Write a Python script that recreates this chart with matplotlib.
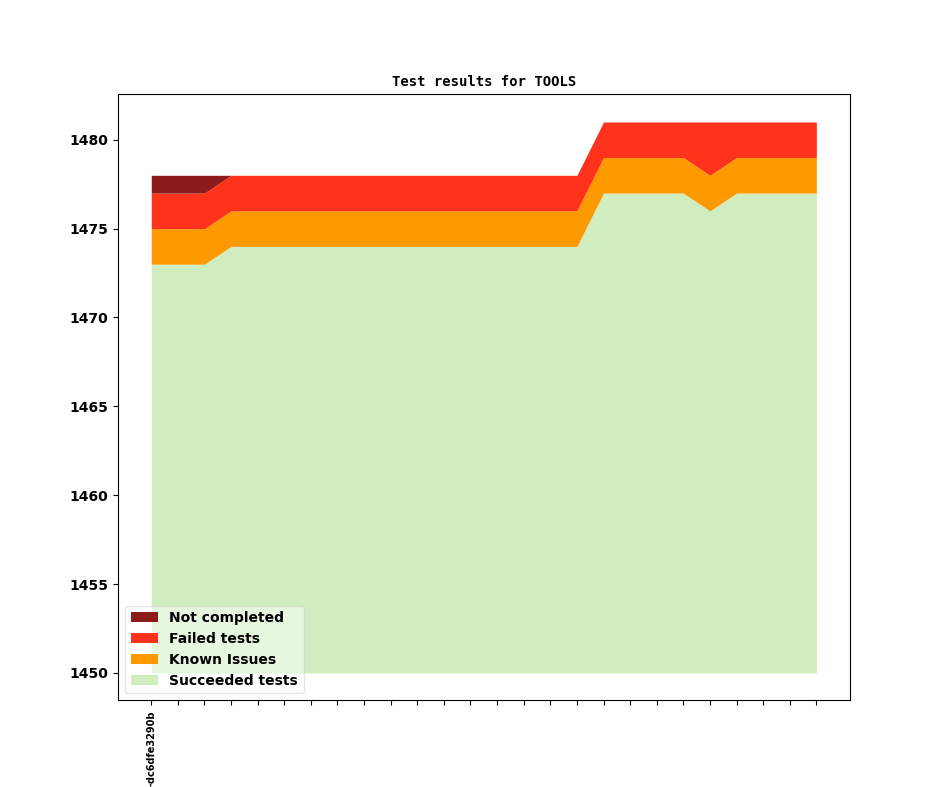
import numpy as np
import matplotlib
matplotlib.use("Agg")
import matplotlib.pyplot as plt

# test counts per build (26 builds)
succeeded = [1473] * 3 + [1474] * 14 + [1477] * 4 + [1476] + [1477] * 4
known_issues = [2] * 26
failed = [2] * 21 + [3] + [2] * 4
not_completed = [1] * 3 + [0] * 23
builds = ["-dc6dfe3290b"] + [""] * 25

base = 1450
colors = ["#cfedbf", "#ff9900", "#ff331c", "#8e1b1b"]
labels = ["Succeeded tests", "Known Issues", "Failed tests", "Not completed"]

x = np.arange(len(builds))
layers = [np.array(succeeded), np.array(known_issues), np.array(failed), np.array(not_completed)]

fig, ax = plt.subplots(figsize=(9.44, 7.87), dpi=100)
bottom = np.full(len(x), base)
handles = []
for vals, c, lab in zip(layers, colors, labels):
    if lab == "Succeeded tests":
        top = vals.copy()
    else:
        top = bottom + vals
    h = ax.fill_between(x, bottom, top, color=c, linewidth=0, label=lab)
    handles.append(h)
    bottom = top

ax.set_title("Test results for TOOLS", family="DejaVu Sans Mono", fontweight="bold", fontsize=10)
ax.set_xticks(x)
ax.set_xticklabels(builds, rotation=90, fontsize=7, fontweight="bold")
for t in ax.get_yticklabels():
    t.set_fontweight("bold")
ax.tick_params(axis="y", labelsize=10)

ax.legend(handles[::-1], labels[::-1], loc="lower left", framealpha=0.5,
          prop={"weight": "bold", "size": 10})

plt.savefig("out.png")
